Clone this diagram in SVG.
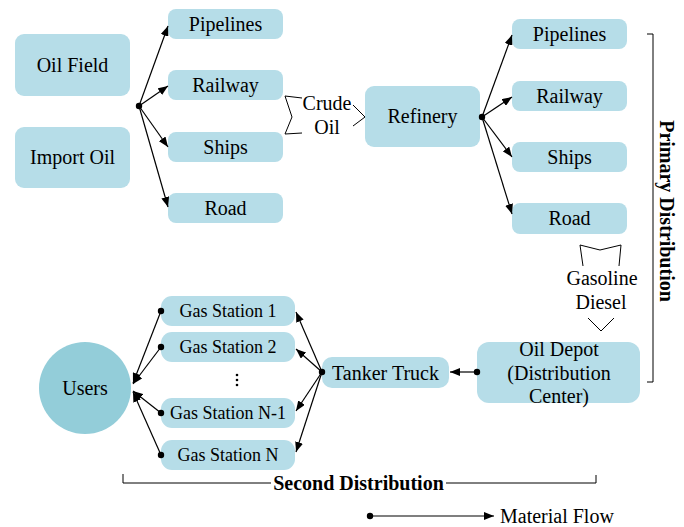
<svg xmlns="http://www.w3.org/2000/svg" width="684" height="527" viewBox="0 0 684 527">
<defs>
<style>
.box{fill:#b6dde8;}
.t{font-family:"Liberation Serif","Times New Roman",serif;font-size:20px;fill:#000;text-anchor:middle;}
.s{font-family:"Liberation Serif","Times New Roman",serif;font-size:18px;fill:#000;text-anchor:middle;}
.b{font-family:"Liberation Serif","Times New Roman",serif;font-size:20px;font-weight:bold;fill:#000;text-anchor:middle;}
.c{stroke:#000;stroke-width:1.2;fill:none;}
.thin{stroke:#000;stroke-width:1;fill:none;}
</style>
<marker id="ah" viewBox="0 0 10 8" refX="10" refY="4" markerWidth="10" markerHeight="8" markerUnits="userSpaceOnUse" orient="auto">
<path d="M0,0 L10,4 L0,8 Z" fill="#000"/>
</marker>
</defs>
<rect width="684" height="527" fill="#fff"/>

<g id="oil-field"><rect class="box" x="15" y="34" width="115" height="62" rx="9"/><text class="t" x="72.5" y="72">Oil Field</text></g>
<g id="import-oil"><rect class="box" x="15" y="127" width="115" height="61" rx="9"/><text class="t" x="72.5" y="164">Import Oil</text></g>

<g id="pipelines-1"><rect class="box" x="168" y="9" width="115" height="30" rx="8"/><text class="t" x="225.5" y="31">Pipelines</text></g>
<g id="railway-1"><rect class="box" x="168" y="70" width="115" height="30" rx="8"/><text class="t" x="225.5" y="92">Railway</text></g>
<g id="ships-1"><rect class="box" x="168" y="132" width="115" height="30" rx="8"/><text class="t" x="225.5" y="154">Ships</text></g>
<g id="road-1"><rect class="box" x="168" y="193" width="115" height="30" rx="8"/><text class="t" x="225.5" y="215">Road</text></g>

<g id="refinery"><rect class="box" x="365" y="86" width="115" height="61" rx="9"/><text class="t" x="422.5" y="123">Refinery</text></g>

<g id="pipelines-2"><rect class="box" x="512" y="19" width="115" height="30" rx="8"/><text class="t" x="569.5" y="41">Pipelines</text></g>
<g id="railway-2"><rect class="box" x="512" y="81" width="115" height="30" rx="8"/><text class="t" x="569.5" y="103">Railway</text></g>
<g id="ships-2"><rect class="box" x="512" y="142" width="115" height="30" rx="8"/><text class="t" x="569.5" y="164">Ships</text></g>
<g id="road-2"><rect class="box" x="512" y="203" width="115" height="31" rx="8"/><text class="t" x="569.5" y="225">Road</text></g>

<g id="oil-depot"><rect class="box" x="477" y="342" width="163" height="61" rx="12"/>
<text class="t" x="559" y="356">Oil Depot</text><text class="t" x="559" y="380">(Distribution</text><text class="t" x="559" y="403">Center)</text></g>

<g id="tanker-truck"><rect class="box" x="322" y="357" width="127" height="31" rx="10"/><text class="t" x="385.5" y="380">Tanker Truck</text></g>

<g id="gas-station-1"><rect class="box" x="161" y="296" width="134" height="30" rx="11"/><text class="s" x="228" y="317">Gas Station 1</text></g>
<g id="gas-station-2"><rect class="box" x="161" y="332" width="134" height="30" rx="11"/><text class="s" x="228" y="353">Gas Station 2</text></g>
<g id="gas-station-n-1"><rect class="box" x="161" y="398" width="134" height="30" rx="11"/><text class="s" x="228" y="419">Gas Station N-1</text></g>
<g id="gas-station-n"><rect class="box" x="161" y="440" width="134" height="30" rx="11"/><text class="s" x="228" y="461">Gas Station N</text></g>
<g id="ellipsis"><circle cx="237" cy="375" r="1.3"/><circle cx="237" cy="380" r="1.3"/><circle cx="237" cy="385" r="1.3"/></g>

<g id="users"><circle cx="85" cy="388" r="46" fill="#93cdd9"/><text class="t" x="85" y="395">Users</text></g>

<g id="connectors">
<circle cx="139" cy="106" r="3.2"/>
<line class="c" x1="139" y1="106" x2="168" y2="26" marker-end="url(#ah)"/>
<line class="c" x1="139" y1="106" x2="168" y2="86" marker-end="url(#ah)"/>
<line class="c" x1="139" y1="106" x2="168" y2="147" marker-end="url(#ah)"/>
<line class="c" x1="139" y1="106" x2="168" y2="207" marker-end="url(#ah)"/>

<circle cx="482" cy="117" r="3.2"/>
<line class="c" x1="482" y1="117" x2="512" y2="35" marker-end="url(#ah)"/>
<line class="c" x1="482" y1="117" x2="512" y2="97" marker-end="url(#ah)"/>
<line class="c" x1="482" y1="117" x2="512" y2="157" marker-end="url(#ah)"/>
<line class="c" x1="482" y1="117" x2="512" y2="214" marker-end="url(#ah)"/>

<circle cx="477" cy="372" r="3.2"/>
<line class="c" x1="477" y1="372" x2="450" y2="372" marker-end="url(#ah)"/>

<circle cx="322" cy="372" r="3.2"/>
<line class="c" x1="322" y1="372" x2="296" y2="312" marker-end="url(#ah)"/>
<line class="c" x1="322" y1="372" x2="296" y2="349" marker-end="url(#ah)"/>
<line class="c" x1="322" y1="372" x2="296" y2="411" marker-end="url(#ah)"/>
<line class="c" x1="322" y1="372" x2="296" y2="452" marker-end="url(#ah)"/>

<circle cx="161" cy="311" r="3.2"/>
<circle cx="161" cy="347" r="3.2"/>
<circle cx="161" cy="413" r="3.2"/>
<circle cx="161" cy="455" r="3.2"/>
<line class="c" x1="161" y1="311" x2="133" y2="383" marker-end="url(#ah)"/>
<line class="c" x1="161" y1="347" x2="133" y2="384" marker-end="url(#ah)"/>
<line class="c" x1="161" y1="413" x2="133" y2="391" marker-end="url(#ah)"/>
<line class="c" x1="161" y1="455" x2="133" y2="392" marker-end="url(#ah)"/>

<circle cx="370" cy="516" r="3.2"/>
<line class="c" x1="370" y1="516" x2="494" y2="516" marker-end="url(#ah)"/>
</g>

<g id="crude-oil-label">
<path class="thin" d="M302,98 L285,96 L292,117 L285,134 L302,133"/>
<path class="thin" d="M353,105 L365,117 L353,126"/>
<text class="t" x="327" y="110">Crude</text>
<text class="t" x="327" y="134">Oil</text>
</g>

<g id="gasoline-diesel-label">
<path class="thin" d="M583,266 L580,245 L600,250 L621,245 L619,266"/>
<text class="t" x="602" y="285">Gasoline</text>
<text class="t" x="601" y="309">Diesel</text>
<path class="thin" d="M588,318 L601,331 L614,318"/>
</g>

<g id="primary-distribution">
<path class="thin" d="M647,34 L653,34 L653,382 L647,382"/>
<text class="b" transform="translate(660,211) rotate(90)">Primary Distribution</text>
</g>

<g id="second-distribution">
<path class="thin" d="M123,474 L123,483 L271,483"/>
<path class="thin" d="M446,483 L596,483 L596,475"/>
<text class="b" x="358.5" y="490">Second Distribution</text>
</g>

<g id="legend"><text class="t" x="500" y="523" text-anchor="start" style="text-anchor:start">Material Flow</text></g>
</svg>
